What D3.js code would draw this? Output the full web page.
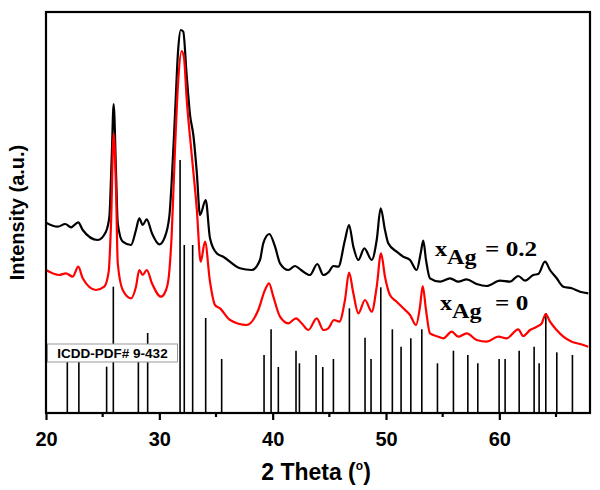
<!DOCTYPE html>
<html>
<head>
<meta charset="utf-8">
<script src="https://cdn.jsdelivr.net/npm/d3@7"></script>
<style>
  body { margin: 0; background: #fff; }
  svg { display: block; }
</style>
</head>
<body>
<svg id="chart" width="600" height="490"></svg>
<script>
// 2 theta values and intensities (a.u.)
const black_theta = [20.00, 21.03, 21.70, 22.21, 22.85, 23.24, 24.56, 25.29, 25.59, 25.80, 25.97, 26.18, 26.33, 26.77, 27.50, 27.94, 28.23, 28.53, 28.89, 29.35, 30.00, 30.44, 30.88, 31.09, 31.38, 31.67, 31.89, 32.11, 32.41, 32.71, 33.00, 33.30, 33.59, 34.09, 34.47, 35.06, 35.64, 37.12, 38.15, 38.88, 39.17, 39.70, 40.21, 40.65, 41.38, 41.97, 42.50, 43.29, 43.94, 44.47, 44.97, 45.35, 45.79, 46.38, 46.74, 47.12, 47.56, 48.09, 48.74, 49.18, 49.53, 49.91, 50.20, 50.94, 51.53, 52.12, 52.71, 53.06, 53.29, 53.53, 53.88, 54.77, 55.65, 56.38, 57.12, 58.00, 58.89, 60.06, 60.94, 61.67, 62.26, 63.00, 63.44, 64.03, 64.47, 65.06, 65.65, 66.39, 67.12, 67.85];
const black_int = [190.3, 186.3, 189, 185.7, 190.7, 183, 173, 181.3, 196.3, 256.3, 309, 240, 189.7, 171.3, 168, 183, 194.7, 188, 193.7, 179.7, 168.7, 174.7, 196.3, 231.3, 298, 364.7, 383, 381.3, 338, 298, 278, 241.3, 198, 213, 174.7, 159.7, 156.3, 144.7, 143, 153, 169.7, 179, 166.3, 149.7, 143, 147, 143, 138, 149, 138, 141.3, 147, 146.3, 173, 188, 166.3, 153, 164.7, 153, 173, 204.7, 183, 169.7, 161.3, 156.3, 153, 143, 159.7, 172.3, 153, 134.7, 131.3, 134.7, 131.3, 133.7, 129, 127, 132.3, 131.3, 137, 132.3, 138, 139, 151.3, 143, 134.7, 126.3, 124.7, 121.3, 119.7];

const red_theta = [20.00, 21.17, 21.76, 22.36, 22.85, 23.24, 24.41, 25.14, 25.53, 25.74, 25.97, 26.18, 26.33, 26.77, 27.50, 27.94, 28.23, 28.53, 28.89, 29.35, 30.15, 30.59, 30.85, 31.09, 31.38, 31.67, 31.97, 32.18, 32.41, 32.86, 33.30, 33.65, 34.03, 34.47, 34.91, 35.35, 36.24, 37.71, 38.73, 39.32, 39.68, 40.06, 40.65, 41.38, 42.06, 42.56, 43.15, 43.89, 44.47, 44.91, 45.41, 45.88, 46.38, 46.74, 47.12, 47.56, 48.15, 48.74, 49.18, 49.56, 49.91, 50.35, 50.94, 51.53, 52.12, 52.65, 53.00, 53.24, 53.53, 53.88, 54.62, 55.06, 55.80, 56.38, 57.12, 58.00, 58.89, 59.91, 60.65, 61.67, 62.11, 62.71, 63.30, 63.74, 64.09, 64.47, 65.06, 65.65, 66.39, 67.12, 67.85];
const red_int = [143, 138, 139.7, 136.3, 146.3, 134.7, 123, 126.3, 141.3, 190, 279.7, 223, 150, 123, 114.7, 126.3, 143, 138, 143, 129.7, 116.3, 123, 138, 178, 263, 333, 362, 354.7, 314.7, 258, 204.7, 151.3, 171.3, 131.3, 108, 104.7, 93, 88, 103, 123, 129.7, 116.3, 96.3, 89.7, 94.7, 89.7, 83, 94.7, 83, 84.7, 93, 91.3, 113, 140.3, 119.7, 99.7, 113, 101.3, 126.3, 159.7, 136.3, 118, 111.3, 104.7, 98, 88, 106.3, 127, 103, 79.7, 76.3, 74.7, 81.3, 76.3, 79.7, 73, 71.3, 76.3, 74.7, 83.7, 77, 83, 86.3, 89.7, 99, 91.3, 83, 76.3, 71.3, 69, 66.3];

// ICDD-PDF# 9-432 reference lines
const pdf_theta = [21.88, 22.90, 25.35, 25.94, 28.15, 28.97, 31.83, 32.20, 32.94, 34.09, 35.50, 39.24, 39.86, 40.50, 42.06, 42.36, 43.83, 44.42, 45.36, 46.77, 48.15, 48.68, 49.54, 50.56, 51.33, 52.19, 53.16, 54.54, 55.95, 57.22, 58.10, 59.98, 60.51, 61.75, 63.07, 63.51, 64.10, 65.07, 66.45];
const pdf_int = [60, 60, 46.3, 126.3, 60, 80, 253, 168, 168, 95, 54, 58, 83.7, 46, 62.3, 49.7, 58, 46, 54, 104.7, 75.3, 54, 125.7, 83.7, 66.3, 74.7, 83.7, 49.7, 62.3, 58, 49.7, 54, 54, 62.3, 66.3, 49.7, 100, 60.7, 58];

const x_ticks = [20, 30, 40, 50, 60];
const x_minor = [25, 35, 45, 55, 65];

const svg = d3.select('#chart');
const plot_left = 46, plot_right = 590, plot_top = 12, plot_bottom = 413;

const x = d3.scaleLinear().domain([20, 68]).range([plot_left, plot_right]);
const y = d3.scaleLinear().domain([0, plot_bottom - plot_top]).range([plot_bottom, plot_top]);

const sansFont = '"Liberation Sans", Arial, sans-serif';
const serifFont = '"Liberation Serif", "Times New Roman", serif';

// reference sticks
svg.append('g')
    .selectAll('line')
    .data(pdf_theta.map((t, i) => ({t: t, v: pdf_int[i]})))
    .enter()
    .append('line')
    .attr('x1', d => x(d.t))
    .attr('x2', d => x(d.t))
    .attr('y1', y(0))
    .attr('y2', d => y(d.v))
    .style('stroke', '#000')
    .style('stroke-width', 1.6);

// label box for the sticks
svg.append('rect')
    .attr('x', 47.5)
    .attr('y', 344)
    .attr('width', 130)
    .attr('height', 18)
    .style('fill', '#fff')
    .style('stroke', '#999')
    .style('stroke-width', 1);

svg.append('text')
    .attr('x', 112.5)
    .attr('y', 358)
    .attr('text-anchor', 'middle')
    .style('font-family', sansFont)
    .style('font-weight', 'bold')
    .style('font-size', '13.5px')
    .text('ICDD-PDF# 9-432');

// curves
const line = d3.line()
    .x(d => x(d[0]))
    .y(d => y(d[1]))
    .curve(d3.curveMonotoneX);

const series = [
    {theta: black_theta, vals: black_int, color: '#000'},
    {theta: red_theta, vals: red_int, color: '#ff0000'}
];

series.forEach(s => {
    svg.append('path')
        .datum(s.theta.map((t, i) => [t, s.vals[i]]))
        .attr('d', line)
        .style('fill', 'none')
        .style('stroke', s.color)
        .style('stroke-width', 2.2)
        .style('stroke-linejoin', 'round');
});

// series labels (the original text is stretched sideways a bit)
function sampleLabel(xpos, eqpos, ypos, value) {
    const g = svg.append('g')
        .style('font-family', serifFont)
        .style('font-weight', 'bold');

    const t = g.append('text')
        .attr('transform', `translate(${xpos}, ${ypos}) scale(1.15, 1)`)
        .style('font-size', '21px');
    t.append('tspan').text('x');
    t.append('tspan').attr('dy', 7.5).style('font-size', '21px').text('Ag');

    g.append('text')
        .attr('transform', `translate(${eqpos}, ${ypos}) scale(1.2, 1)`)
        .style('font-size', '21px')
        .text('= ' + value);
}
sampleLabel(435, 485, 256, '0.2');
sampleLabel(440, 495, 310, '0');

// frame
svg.append('rect')
    .attr('x', plot_left)
    .attr('y', plot_top)
    .attr('width', plot_right - plot_left)
    .attr('height', plot_bottom - plot_top)
    .style('fill', 'none')
    .style('stroke', '#000')
    .style('stroke-width', 2.2);

// x axis
const xAxis = d3.axisBottom(x)
    .tickValues(x_ticks)
    .tickSize(7)
    .tickPadding(12)
    .tickFormat(d3.format('d'));

const gx = svg.append('g')
    .attr('transform', `translate(0, ${plot_bottom})`)
    .call(xAxis);
gx.select('.domain').remove();
gx.selectAll('line').style('stroke-width', 2.2);
gx.selectAll('text')
    .style('font-family', sansFont)
    .style('font-weight', 'bold')
    .style('font-size', '20px');

svg.append('g')
    .selectAll('line')
    .data(x_minor)
    .enter()
    .append('line')
    .attr('x1', d => x(d))
    .attr('x2', d => x(d))
    .attr('y1', plot_bottom)
    .attr('y2', plot_bottom + 4)
    .style('stroke', '#000')
    .style('stroke-width', 2.2);

// axis titles
const xt = svg.append('text')
    .attr('x', 316)
    .attr('y', 480)
    .attr('text-anchor', 'middle')
    .style('font-family', sansFont)
    .style('font-weight', 'bold')
    .style('font-size', '23px');
xt.append('tspan').text('2 Theta (');
xt.append('tspan').attr('dy', -10).style('font-size', '12px').text('o');
xt.append('tspan').attr('dy', 10).text(')');

svg.append('text')
    .attr('transform', `translate(24, ${(plot_top + plot_bottom) / 2}) rotate(-90)`)
    .attr('text-anchor', 'middle')
    .style('font-family', sansFont)
    .style('font-weight', 'bold')
    .style('font-size', '20px')
    .text('Intensity (a.u.)');
</script>
</body>
</html>
